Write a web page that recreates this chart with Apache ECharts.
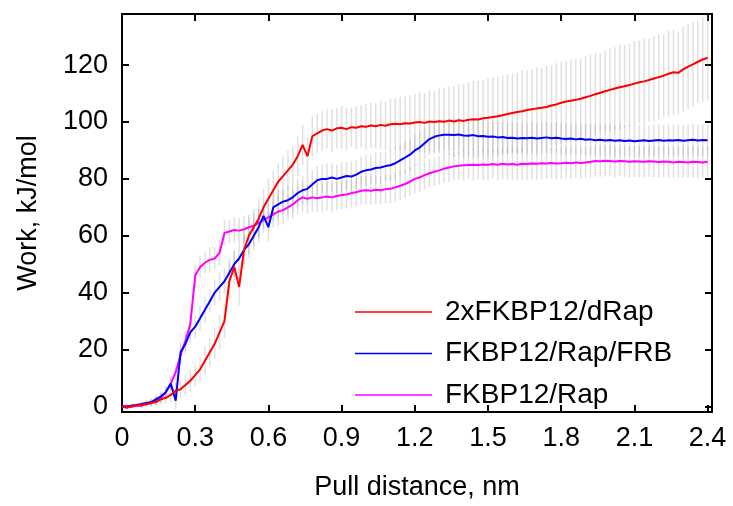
<!DOCTYPE html>
<html><head><meta charset="utf-8">
<script src="https://cdn.jsdelivr.net/npm/echarts@6/dist/echarts.min.js"></script>
<style>html,body{margin:0;padding:0;background:#fff}#c{width:733px;height:506px}</style>
</head><body><div id="c"></div>
<script>
const X = [0,0.02,0.04,0.06,0.08,0.10,0.12,0.14,0.16,0.18,0.20,0.22,0.24,0.26,0.28,0.30,0.32,0.34,0.36,0.38,0.40,0.42,0.44,0.46,0.48,0.50,0.52,0.54,0.56,0.58,0.60,0.62,0.64,0.66,0.68,0.70,0.72,0.74,0.76,0.78,0.80,0.82,0.84,0.86,0.88,0.90,0.92,0.94,0.96,0.98,1.00,1.02,1.04,1.06,1.08,1.10,1.12,1.14,1.16,1.18,1.20,1.22,1.24,1.26,1.28,1.30,1.32,1.34,1.36,1.38,1.40,1.42,1.44,1.46,1.48,1.50,1.52,1.54,1.56,1.58,1.60,1.62,1.64,1.66,1.68,1.70,1.72,1.74,1.76,1.78,1.80,1.82,1.84,1.86,1.88,1.90,1.92,1.94,1.96,1.98,2.00,2.02,2.04,2.06,2.08,2.10,2.12,2.14,2.16,2.18,2.20,2.22,2.24,2.26,2.28,2.30,2.32,2.34,2.36,2.38,2.40];

const red = [0,-0.5,0,0.3,0.6,0.8,1.2,1.5,2.5,3,4,5.5,6,7.5,9,11,13,16,19,22,26,30,44,49,42,55,60,63,66,70,73,76,79,81,83,85,88,92,88,95,96,97,97.5,97,97.8,98,97.5,98.2,98,98.5,98.3,98.8,98.5,99,98.7,99.2,99.4,99.2,99.6,99.5,99.8,100,99.7,100.2,100,100.3,100.1,100.5,100.2,100.6,100.4,100.8,101,100.9,101.3,101.5,101.8,102,102.4,102.8,103.2,103.5,103.8,104.2,104.5,104.8,105,105.3,105.8,106.2,106.8,107.2,107.5,107.8,108.2,108.7,109.2,109.8,110.3,110.8,111.3,111.8,112.2,112.6,113,113.5,114,114.3,114.8,115.3,115.8,116.3,117,117.5,117.3,118.5,119.5,120.3,121.2,122,122.6];

const blue = [0,-0.3,0.3,0.5,0.8,1.2,1.5,2.5,3.5,5,8,2,19,22,26,28,31,34,37,40,42,44,47,50,52,55,57,60,63,67,63,70,71,72,72.5,73.5,75,76,76.5,78,79.5,80,80,80.5,80,80.5,81,80.8,81.5,82.5,83,83.3,83.8,84,84.5,84.8,85.5,86.5,87.5,88.5,90,91,92.5,94,94.8,95.3,95.5,95.5,95.4,95.6,95.3,95.2,95.4,95,95.1,94.8,94.9,94.6,94.7,94.4,94.5,94.2,94.4,94.3,94.5,94.2,94.4,94.6,94.3,94.5,94.2,94,94.2,93.9,94.1,93.8,93.9,93.6,93.8,93.5,93.7,93.4,93.6,93.3,93.5,93.2,93.4,93.6,93.3,93.5,93.7,93.4,93.6,93.5,93.7,93.4,93.6,93.8,93.5,93.7,93.6];

const magenta = [0,0.2,-0.2,0.3,0.2,0.8,1.2,2,3,5,8,12,18,23,29,46,49,50.5,51.5,52,54,61,61.5,62,61.8,62.3,63,63.5,64.5,65.5,66.5,67.5,68.5,69,70,71,72.5,73.5,73,73.5,73.2,73.5,73.8,73.5,74,74.3,74.5,75,75.3,75.8,76,75.8,76.2,76,76.4,76.5,77,77.6,78.2,79,80,80.5,81.3,82,82.5,83,83.6,84,84.4,84.6,84.8,84.9,85,84.9,85.1,85,85.2,85,85.3,85.1,85.2,85,85.3,85.2,85.4,85.3,85.5,85.4,85.6,85.4,85.5,85.7,85.5,85.8,85.6,85.8,86,86.3,86.2,86.4,86.3,86.1,86.3,86.2,86,86.2,86.1,86,86.2,86.1,85.9,86.1,86,85.8,86,85.9,85.8,86,85.9,85.8,86];

const errRed = [0.3,0.4,0.5,0.6,0.8,1,1.2,1.5,1.8,2,2.5,3,3,3.5,4,4,4.5,5,5,5.5,6,6,6.5,6,6.5,7,6.5,6.5,7,6.5,7,7,6.5,7,7,6.5,7,7,6.5,7,7,7,7,7.5,7,7.5,7.5,7,7.5,7.5,8,8,8,8.5,8.5,9,9,9.5,9.5,10,10,10.5,10.5,11,11,11.5,12,12,12.5,12.5,13,13,13.5,13.5,13.5,14,14,14,14,14,14,14,14.5,14,14,14.5,14,14.5,14,14.5,14.5,14,14.5,14.5,14,14.5,14.5,14.5,14,14.5,14.5,14.5,15,14.5,14.5,15,14.5,15,14.5,15,15,14.5,15,15,14.5,15,15,15,14.5,15,15];

const errBlue = [0.3,0.4,0.5,0.6,0.8,1,1.2,1.5,1.8,2,2.5,3,3.5,3.5,4,4,4.5,4.5,4,4.5,5,4.5,5,4.5,5,5,4.5,5,5,4.5,5,5,5,4.5,5,5,5,5,5,5,5,5,5.5,5,5,5.5,5,5.5,5,5.5,5.5,5,5.5,5.5,5,5.5,5.5,5.5,5.5,5.5,5.5,5.5,5.5,5.5,5.5,5.5,5.5,5.5,5.5,5.5,5.5,5.5,5.5,5.5,5.5,5.5,5.5,5.5,5.5,5.5,5.5,5.5,5.5,5.5,5.5,5.5,5.5,5.5,5.5,5.5,5.5,5.5,5.5,5.5,5.5,5.5,5.5,5.5,5.5,5.5,5.5,5.5,5.5,5.5,5.5,5.5,5.5,5.5,5.5,5.5,5.5,5.5,5.5,5.5,5.5,5.5,5.5,5.5,5.5,5.5,5.5];

const errMag = [0.3,0.4,0.5,0.6,0.8,1,1.2,1.5,1.8,2,2.5,3,3,3.5,3.5,4,4,4,4.5,4,4.5,4.5,4,4.5,4.5,4.5,4.5,4.5,5,4.5,5,4.5,5,5,4.5,5,5,5,5,5,5,5,5,5,5,5,5,5,5,5,5,5,5,5,5,5,5,5,5,5,5,5,5,5,5,5,5,5,5,5,5.5,5,5.5,5,5.5,5.5,5,5.5,5.5,5.5,5.5,5.5,5.5,5.5,5.5,5.5,5.5,5.5,5.5,5.5,5.5,5.5,5.5,5.5,5.5,5.5,5.5,5.5,5.5,5.5,5.5,5.5,5.5,5.5,5.5,5.5,5.5,5.5,5.5,5.5,5.5,5.5,5.5,5.5,5.5,5.5,5.5,5.5,5.5,5.5,5.5];

const seriesNames = ['2xFKBP12/dRap','FKBP12/Rap/FRB','FKBP12/Rap'];
const seriesColors = ['#ff0000','#0000ff','#ff00ff'];
const xTicks = [0,0.3,0.6,0.9,1.2,1.5,1.8,2.1,2.4];
const yTicks = [0,20,40,60,80,100,120];

const FONT = 'Liberation Sans, Arial, Helvetica, sans-serif';
const chart = echarts.init(document.getElementById('c'), null, {renderer:'canvas'});

function errSeries(ys, es, idx){
  return {
    type:'custom', name:'err'+idx, silent:true, clip:true, z:1,
    xAxisIndex:0, yAxisIndex:0,
    data: X.map((x,i)=>[x, ys[i], es[i]]),
    encode:{x:0, y:1},
    renderItem:function(params, api){
      const x = api.value(0), y = api.value(1), e = api.value(2);
      const p1 = api.coord([x, y - e]), p2 = api.coord([x, y + e]);
      return {type:'line', shape:{x1:p1[0], y1:p1[1], x2:p2[0], y2:p2[1]},
        style:{stroke:'rgba(160,160,160,0.32)', lineWidth:1.5}};
    }
  };
}
function lineSeries(ys, idx){
  return {
    type:'line', name:seriesNames[idx], showSymbol:false, z:3+ (2-idx),
    data: X.map((x,i)=>[x, ys[i]]),
    lineStyle:{color:seriesColors[idx], width:2},
    itemStyle:{color:seriesColors[idx]}
  };
}
const axLine = {show:true, onZero:false, lineStyle:{color:'#000', width:2}};
const tickStyle = {color:'#000', width:2};

chart.setOption({
  animation:false,
  backgroundColor:'#fff',
  grid:{left:122, right:21, top:14, bottom:89, containLabel:false},
  legend:{
    data:seriesNames, orient:'vertical', left:350, top:293,
    icon:'rect', itemWidth:77, itemHeight:1.5, itemGap:13.5,
    textStyle:{fontSize:28, lineHeight:28, color:'#000', fontFamily:FONT, padding:[0,0,0,8]},
    selectedMode:false
  },
  xAxis:[
    {type:'value', min:0, max:2.418, position:'bottom', axisLine:axLine,
     axisTick:{show:true, inside:true, length:7, lineStyle:tickStyle, customValues:xTicks},
     axisLabel:{customValues:xTicks, fontSize:27, color:'#000', margin:13, fontFamily:FONT},
     splitLine:{show:false},
     name:'Pull distance, nm', nameLocation:'middle', nameGap:62,
     nameTextStyle:{fontSize:27, color:'#000', fontFamily:FONT}},
    {type:'value', min:0, max:2.418, position:'top', axisLine:axLine,
     axisTick:{show:true, inside:true, length:7, lineStyle:tickStyle, customValues:xTicks},
     axisLabel:{show:false}, splitLine:{show:false}}
  ],
  yAxis:[
    {type:'value', min:-2, max:138, position:'left', axisLine:axLine,
     axisTick:{show:true, inside:true, length:7, lineStyle:tickStyle, customValues:yTicks},
     axisLabel:{customValues:yTicks, fontSize:27, color:'#000', margin:14, fontFamily:FONT},
     splitLine:{show:false},
     name:'Work, kJ/mol', nameLocation:'middle', nameGap:80,
     nameTextStyle:{fontSize:27, color:'#000', fontFamily:FONT}},
    {type:'value', min:-2, max:138, position:'right', axisLine:axLine,
     axisTick:{show:true, inside:true, length:7, lineStyle:tickStyle, customValues:yTicks},
     axisLabel:{show:false}, splitLine:{show:false}}
  ],
  series:[
    errSeries(red, errRed, 0),
    errSeries(blue, errBlue, 1),
    errSeries(magenta, errMag, 2),
    lineSeries(red, 0),
    lineSeries(blue, 1),
    lineSeries(magenta, 2)
  ]
});
</script>
</body></html>
